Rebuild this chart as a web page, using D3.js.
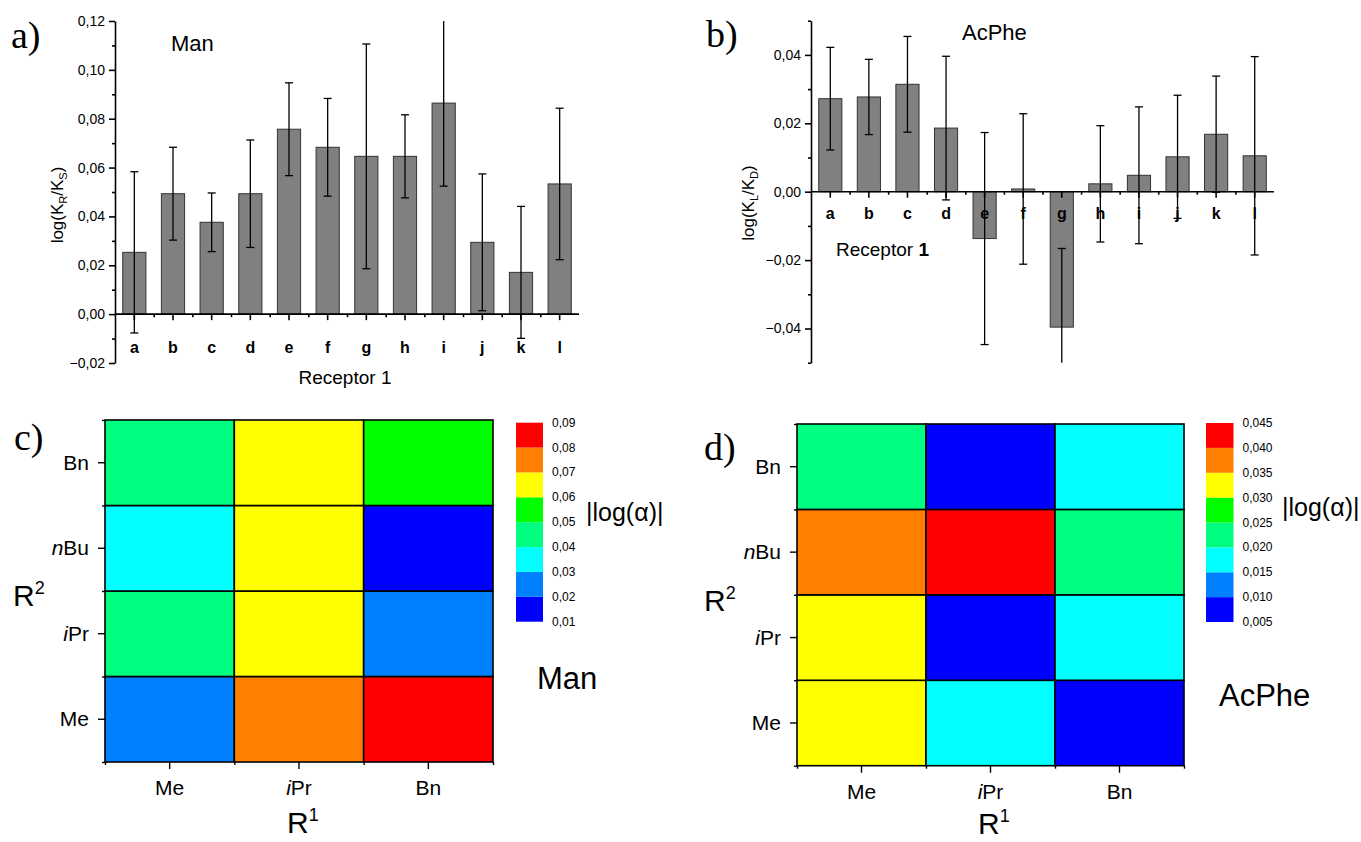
<!DOCTYPE html>
<html>
<head>
<meta charset="utf-8">
<script src="https://cdn.jsdelivr.net/npm/d3@7"></script>
<style>
  body { margin: 0; background: #fff; }
  text { font-family: "Liberation Sans", Arial, sans-serif; fill: #000; }
  .serif { font-family: "Liberation Serif", "DejaVu Serif", serif; }
</style>
</head>
<body>
<script>
const W = 1361, H = 842;

// receptor letters (x categories of a and b)
const receptors = ['a','b','c','d','e','f','g','h','i','j','k','l'];
// panel a: Man, log(KR/KS)
const manValues = [0.0253, 0.0493, 0.0376, 0.0493, 0.0757, 0.0683, 0.0646, 0.0646, 0.0864, 0.0294, 0.0171, 0.0533];
const manErrors = [0.033, 0.019, 0.012, 0.022, 0.019, 0.020, 0.046, 0.017, 0.034, 0.028, 0.027, 0.031];
const manTicks = [-0.02, 0, 0.02, 0.04, 0.06, 0.08, 0.10, 0.12];
const manMinor = [-0.01, 0.01, 0.03, 0.05, 0.07, 0.09, 0.11];
// panel b: AcPhe, log(KL/KD)
const acpheValues = [0.0272, 0.0277, 0.0314, 0.0186, -0.0137, 0.0008, -0.0396, 0.0023, 0.0048, 0.0102, 0.0168, 0.0105];
const acpheErrors = [0.015, 0.011, 0.014, 0.021, 0.031, 0.022, 0.023, 0.017, 0.020, 0.018, 0.017, 0.029];
const acpheTicks = [-0.04, -0.02, 0, 0.02, 0.04];
const acpheMinor = [-0.05, -0.03, -0.01, 0.01, 0.03, 0.05];

// heatmaps: rows = R2 (bottom to top), columns = R1
const r1Labels = ['Me', 'iPr', 'Bn'];
const r2Labels = ['Me', 'iPr', 'nBu', 'Bn'];
const manHeat = [
  [0.0253, 0.0757, 0.0864],
  [0.0493, 0.0683, 0.0294],
  [0.0376, 0.0646, 0.0171],
  [0.0493, 0.0646, 0.0533]
];
const acpheHeat = [
  [0.032, 0.017, 0.007],
  [0.032, 0.006, 0.017],
  [0.037, 0.042, 0.022],
  [0.022, 0.006, 0.017]
];
const heatColors = ['#0000ff', '#0080ff', '#00ffff', '#00ff80', '#00ff00', '#ffff00', '#ff8000', '#ff0000'];
const manLevels = [0.01, 0.02, 0.03, 0.04, 0.05, 0.06, 0.07, 0.08, 0.09];
const acpheLevels = [0.005, 0.010, 0.015, 0.020, 0.025, 0.030, 0.035, 0.040, 0.045];

const svg = d3.select('body').append('svg').attr('width', W).attr('height', H);

function comma(f) { return v => d3.format(f)(v).replace('.', ','); }

function drawBars(o) {
  const g = svg.append('g');
  const x = d3.scaleBand().domain(receptors).range([o.x0, o.x1]).paddingInner(0.4).paddingOuter(0.2);
  const y = d3.scaleLinear().domain(o.domain).range([o.yBot, o.yTop]).clamp(true);
  const y0 = y(0);
  const rows = receptors.map((r, i) => ({ r: r, v: o.values[i], e: o.errors[i] }));

  g.selectAll('rect.bar').data(rows).enter().append('rect')
    .attr('class', 'bar')
    .attr('x', d => x(d.r))
    .attr('width', x.bandwidth())
    .attr('y', d => Math.min(y(d.v), y0))
    .attr('height', d => Math.abs(y(d.v) - y0))
    .attr('fill', '#808080').attr('stroke', '#333').attr('stroke-width', 1);

  const cx = d => x(d.r) + x.bandwidth() / 2;
  const eb = g.selectAll('g.err').data(rows).enter().append('g').attr('class', 'err')
    .attr('stroke', '#000').attr('stroke-width', 1.3);
  eb.append('line').attr('x1', cx).attr('x2', cx)
    .attr('y1', d => y(d.v + d.e)).attr('y2', d => y(d.v - d.e));
  eb.filter(d => d.v + d.e < o.domain[1]).append('line')
    .attr('x1', d => cx(d) - 4).attr('x2', d => cx(d) + 4)
    .attr('y1', d => y(d.v + d.e)).attr('y2', d => y(d.v + d.e));
  eb.filter(d => d.v - d.e > o.domain[0]).append('line')
    .attr('x1', d => cx(d) - 4).attr('x2', d => cx(d) + 4)
    .attr('y1', d => y(d.v - d.e)).attr('y2', d => y(d.v - d.e));

  // y axis, major and minor ticks
  const ya = g.append('g').attr('transform', 'translate(' + o.x0 + ',0)')
    .call(d3.axisLeft(y).tickValues(o.ticks).tickSize(6).tickSizeOuter(0).tickFormat(comma('.2f')));
  ya.selectAll('text').attr('font-size', 14).attr('font-family', '"Liberation Sans", Arial, sans-serif').attr('dx', -1);
  const ym = g.append('g').attr('transform', 'translate(' + o.x0 + ',0)')
    .call(d3.axisLeft(y).tickValues(o.minor).tickSize(3).tickFormat(''));
  ym.select('.domain').remove();
  [ya, ym].forEach(a => a.selectAll('line, path').attr('stroke', '#000').attr('stroke-width', 1.6));

  // x axis at zero line
  const xa = g.append('g').attr('transform', 'translate(0,' + y0 + ')')
    .call(d3.axisBottom(x).tickSize(6).tickSizeOuter(0).tickFormat(''));
  const step = x.step();
  const mids = receptors.slice(1).map(r => x(r) - step * 0.2);
  const xm = g.append('g').attr('transform', 'translate(0,' + y0 + ')')
    .call(d3.axisBottom(d3.scaleLinear().domain([0, 1]).range([0, 1])).tickValues(mids).tickSize(3).tickFormat(''));
  xm.select('.domain').remove();
  xa.select('.domain').attr('d', 'M' + o.x0 + ',0H' + o.x1);
  [xa, xm].forEach(a => a.selectAll('line, path').attr('stroke', '#000').attr('stroke-width', 1.6));

  g.selectAll('text.lbl').data(receptors).enter().append('text')
    .attr('x', d => x(d) + x.bandwidth() / 2).attr('y', o.labelY)
    .attr('text-anchor', 'middle').attr('font-size', 16).attr('font-weight', 'bold').text(d => d);

  // y title with subscripts
  const yt = g.append('text').attr('font-size', 17).attr('text-anchor', 'middle')
    .attr('transform', 'translate(' + o.ylabX + ',' + o.ylabY + ') rotate(-90)');
  yt.append('tspan').text('log(K');
  yt.append('tspan').attr('font-size', 11).attr('dy', 4).text(o.sub1);
  yt.append('tspan').attr('dy', -4).text('/K');
  yt.append('tspan').attr('font-size', 11).attr('dy', 4).text(o.sub2);
  yt.append('tspan').attr('dy', -4).text(')');

  g.append('text').attr('x', o.titleX).attr('y', o.titleY).attr('font-size', 22).text(o.title);
  const rt = g.append('text').attr('x', o.recX).attr('y', o.recY).attr('font-size', 19).attr('text-anchor', o.recAnchor);
  rt.append('tspan').text('Receptor ');
  rt.append('tspan').attr('font-weight', o.recBold ? 'bold' : 'normal').text('1');

  g.append('text').attr('class', 'serif').attr('x', o.panelX).attr('y', o.panelY).attr('font-size', 38).text(o.panel);
}

function drawHeat(o) {
  const g = svg.append('g');
  const x = d3.scaleBand().domain(r1Labels).range([o.x0, o.x1]);
  const y = d3.scaleBand().domain(r2Labels.slice().reverse()).range([o.y0, o.y1]);
  const color = d3.scaleThreshold().domain(o.levels.slice(1, -1)).range(heatColors);

  const cells = [];
  o.values.forEach((row, ri) => row.forEach((v, ci) => cells.push({ r: r2Labels[ri], c: r1Labels[ci], v: v })));
  g.selectAll('rect.cell').data(cells).enter().append('rect')
    .attr('x', d => x(d.c)).attr('y', d => y(d.r))
    .attr('width', x.bandwidth()).attr('height', y.bandwidth())
    .attr('fill', d => color(d.v)).attr('stroke', '#000').attr('stroke-width', 1.6);

  // ticks
  const ya = g.append('g').attr('transform', 'translate(' + o.x0 + ',0)')
    .call(d3.axisLeft(y).tickSize(7).tickSizeOuter(0).tickFormat(''));
  const bounds = d3.scaleLinear().domain([0, 1]).range([0, 1]);
  const rb = d3.range(r2Labels.length + 1).map(i => o.y0 + i * y.step());
  const cb = d3.range(r1Labels.length + 1).map(i => o.x0 + i * x.step());
  const ym = g.append('g').attr('transform', 'translate(' + o.x0 + ',0)')
    .call(d3.axisLeft(bounds).tickValues(rb).tickSize(3).tickFormat(''));
  const xa = g.append('g').attr('transform', 'translate(0,' + o.y1 + ')')
    .call(d3.axisBottom(x).tickSize(7).tickSizeOuter(0).tickFormat(''));
  const xm = g.append('g').attr('transform', 'translate(0,' + o.y1 + ')')
    .call(d3.axisBottom(bounds).tickValues(cb).tickSize(3).tickFormat(''));
  [ya, ym, xa, xm].forEach(a => {
    a.select('.domain').remove();
    a.selectAll('line').attr('stroke', '#000').attr('stroke-width', 1.4);
  });

  const addLabel = (sel, d) => {
    if (d[0] === d[0].toLowerCase()) {
      sel.append('tspan').attr('font-style', 'italic').text(d[0]);
      sel.append('tspan').text(d.slice(1));
    } else sel.text(d);
  };
  g.selectAll('text.yl').data(r2Labels).enter().append('text')
    .attr('x', o.x0 - 16).attr('y', d => y(d) + y.bandwidth() / 2 + 7)
    .attr('text-anchor', 'end').attr('font-size', 21)
    .each(function (d) { addLabel(d3.select(this), d); });
  g.selectAll('text.xl').data(r1Labels).enter().append('text')
    .attr('x', d => x(d) + x.bandwidth() / 2).attr('y', o.y1 + 33)
    .attr('text-anchor', 'middle').attr('font-size', 21)
    .each(function (d) { addLabel(d3.select(this), d); });

  // colour bar
  const cbY = d3.scaleLinear().domain([o.levels[0], o.levels[o.levels.length - 1]]).range([o.cbBot, o.cbTop]);
  g.selectAll('rect.cb').data(heatColors).enter().append('rect')
    .attr('x', o.cbX).attr('width', o.cbW)
    .attr('y', (c, i) => cbY(o.levels[i + 1]))
    .attr('height', (c, i) => cbY(o.levels[i]) - cbY(o.levels[i + 1]))
    .attr('fill', c => c);
  g.selectAll('text.cbl').data(o.levels).enter().append('text')
    .attr('x', o.cbX + o.cbW + 9).attr('y', d => cbY(d) + 4)
    .attr('font-size', 12).text(comma(o.fmt));

  g.append('text').attr('x', o.logX).attr('y', o.logY).attr('font-size', 25).text('|log(α)|');
  g.append('text').attr('x', o.nameX).attr('y', o.nameY).attr('font-size', 31).text(o.name);

  const r2 = g.append('text').attr('x', o.r2X).attr('y', o.r2Y).attr('font-size', 30);
  r2.append('tspan').text('R');
  r2.append('tspan').attr('font-size', 18).attr('dy', -12).text('2');
  const r1 = g.append('text').attr('x', o.r1X).attr('y', o.r1Y).attr('font-size', 30);
  r1.append('tspan').text('R');
  r1.append('tspan').attr('font-size', 18).attr('dy', -12).text('1');

  g.append('text').attr('class', 'serif').attr('x', o.panelX).attr('y', o.panelY).attr('font-size', 38).text(o.panel);
}

drawBars({
  values: manValues, errors: manErrors, ticks: manTicks, minor: manMinor,
  domain: [-0.02, 0.12], x0: 115, x1: 579, yTop: 21, yBot: 363,
  labelY: 353, sub1: 'R', sub2: 'S', ylabX: 63, ylabY: 205,
  title: 'Man', titleX: 171, titleY: 51,
  recX: 345, recY: 384, recAnchor: 'middle', recBold: false,
  panel: 'a)', panelX: 11, panelY: 48
});

drawBars({
  values: acpheValues, errors: acpheErrors, ticks: acpheTicks, minor: acpheMinor,
  domain: [-0.05, 0.05], x0: 811, x1: 1274, yTop: 20.7, yBot: 362.7,
  labelY: 219, sub1: 'L', sub2: 'D', ylabX: 754, ylabY: 203,
  title: 'AcPhe', titleX: 962, titleY: 40,
  recX: 836, recY: 256, recAnchor: 'start', recBold: true,
  panel: 'b)', panelX: 706, panelY: 47
});

drawHeat({
  values: manHeat, levels: manLevels, fmt: '.2f',
  x0: 105, x1: 493, y0: 420, y1: 762,
  cbX: 516, cbW: 27, cbTop: 422.7, cbBot: 621.7,
  logX: 586, logY: 521, name: 'Man', nameX: 537, nameY: 689,
  r2X: 13, r2Y: 606, r1X: 287, r1Y: 833,
  panel: 'c)', panelX: 14, panelY: 450
});

drawHeat({
  values: acpheHeat, levels: acpheLevels, fmt: '.3f',
  x0: 797, x1: 1184, y0: 424, y1: 765.7,
  cbX: 1206, cbW: 27.5, cbTop: 423, cbBot: 622,
  logX: 1282, logY: 516, name: 'AcPhe', nameX: 1219, nameY: 706,
  r2X: 704, r2Y: 611, r1X: 978, r1Y: 834,
  panel: 'd)', panelX: 704, panelY: 460
});
</script>
</body>
</html>
